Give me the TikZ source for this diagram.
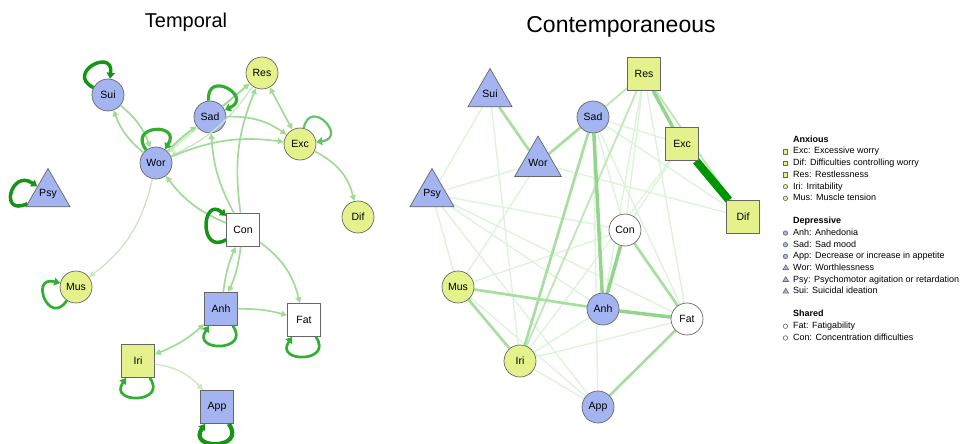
\documentclass[tikz,border=0pt]{standalone}
\usepackage{fontspec}
\setmainfont{Liberation Sans}
\usepackage{xcolor}
\usepackage{tikz}
\usetikzlibrary{positioning}
\usetikzlibrary{shapes.geometric}
\usetikzlibrary{arrows.meta}
\usetikzlibrary{backgrounds}

\definecolor{depblue}{RGB}{164,180,240}
\definecolor{anxyellow}{RGB}{229,242,140}
\definecolor{tedge}{RGB}{160,220,150}
\definecolor{tedgelight}{RGB}{196,234,190}
\definecolor{loopgreen}{RGB}{50,175,50}
\definecolor{loopdark}{RGB}{22,148,22}
\definecolor{cfaint}{RGB}{222,243,218}
\definecolor{clight}{RGB}{192,231,186}
\definecolor{cmid}{RGB}{168,222,160}
\definecolor{cstrong}{RGB}{148,213,140}
\definecolor{cdark}{RGB}{0,150,0}

\begin{document}
\begin{tikzpicture}[x=1pt, y=1pt, node distance=0pt,
  every node/.style={font=\fontsize{10.5}{12}\selectfont},
  >={Triangle[length=6pt,width=6pt]},
  sym/.style={draw=black!60, line width=0.7pt, inner sep=0pt},
  circ/.style={sym, circle, minimum size=32pt},
  sq/.style={sym, rectangle, minimum size=33pt},
  tri/.style={sym, regular polygon, regular polygon sides=3, minimum size=51pt},
  dep/.style={fill=depblue},
  anx/.style={fill=anxyellow},
  shr/.style={fill=white},
  tarr/.style={->, draw=tedge, line width=1.7pt},
  tlight/.style={->, draw=tedgelight, line width=1.3pt},
  selfloop/.style={->, >={Triangle[length=6pt,width=8pt]}, draw=loopgreen, line width=3pt, min distance=32pt},
  pc1/.style={draw=cfaint, line width=1.4pt},
  pc2/.style={draw=clight, line width=1.9pt},
  pc3/.style={draw=cmid, line width=2.7pt},
  pc4/.style={draw=cstrong, line width=3.5pt},
  pc8/.style={draw=cdark, line width=8pt},
  lgtext/.style={anchor=north west, inner sep=0pt, text height=8pt, text depth=3.3pt, font=\fontsize{9}{11}\selectfont},
  lghead/.style={lgtext, font=\fontsize{9}{11}\selectfont\bfseries},
  lmark/.style={draw=black!60, line width=0.6pt, inner sep=0pt, xshift=-5pt},
  lsq/.style={label={[lmark, rectangle, fill=anxyellow, minimum size=4.5pt]left:{}}},
  lca/.style={label={[lmark, circle, fill=anxyellow, minimum size=4.5pt]left:{}}},
  lcd/.style={label={[lmark, circle, fill=depblue, minimum size=4.5pt]left:{}}},
  lcs/.style={label={[lmark, circle, fill=white, minimum size=4.5pt]left:{}}},
  ltd/.style={label={[lmark, regular polygon, regular polygon sides=3, fill=depblue, minimum size=6.5pt]left:{}}}
]
\useasboundingbox (0,0) rectangle (963,-444);

% titles
\node (ttitle) at (186,-22) {\fontsize{20}{24}\selectfont Temporal};
\node (ctitle) at (621,-27) {\fontsize{23}{27}\selectfont Contemporaneous};

% temporal network
\node (tsui) [circ, dep] at (108,-95) {Sui};
\node (twor) [circ, dep] at (156,-163) {Wor};
\node (tpsy) [tri, dep] at (48,-194) {Psy};
\node (tsad) [circ, dep] at (210,-117) {Sad};
\node (tres) [circ, anx] at (262,-73) {Res};
\node (texc) [circ, anx] at (300,-144) {Exc};
\node (tdif) [circ, anx] at (358,-217) {Dif};
\node (tcon) [sq, shr] at (243,-230) {Con};
\node (tmus) [circ, anx] at (76,-287) {Mus};
\node (tanh) [sq, dep] at (221,-309) {Anh};
\node (tfat) [sq, shr] at (304,-320) {Fat};
\node (tiri) [sq, anx] at (138,-361) {Iri};
\node (tapp) [sq, dep] at (217,-407) {App};

\draw [tarr] (tsui) to [bend left=15] (twor);
\draw [tarr] (twor) to [bend left=15] (tsui);
\draw [tarr, line width=2pt] (twor) to [bend left=5] (tsad);
\draw [tlight] (tsad) -- (twor);
\draw [tlight] (tres) to [bend left=15] (twor);
\draw [tarr, line width=2pt] (tsad) -- (tres);
\draw [tarr] (tsad) to [bend left=18] (texc);
\draw [tarr] (twor) to [bend left=15] (texc);
\draw [tarr, <->] (tres) -- (texc);
\draw [tarr] (texc) to [bend left=25] (tdif);
\draw [tarr] (tcon) to [bend left=15] (tres);
\draw [tarr] (tcon) to [bend left=12] (tsad);
\draw [tarr] (tcon) to [bend left=15] (twor);
\draw [tarr] (tcon) to [bend left=8] (tanh);
\draw [tarr] (tanh) to [bend left=8] (tcon);
\draw [tarr] (tcon) to [bend left=20] (tfat);
\draw [tarr] (tanh) to [bend left=8] (tfat);
\draw [tarr, <->] (tiri) to [bend right=10] (tanh);
\draw [tlight] (tiri) to [bend left=20] (tapp);
\draw [tlight] (twor) to [bend left=20] (tmus);

% temporal self loops
\draw [selfloop, draw=loopdark, line width=3.5pt] (tsui) to [out=153, in=83] (tsui);
\draw [selfloop, line width=3.2pt] (twor) to [out=127, in=57] (twor);
\draw [selfloop, draw=loopdark, line width=3.5pt] (tpsy) to [out=205, in=145] (tpsy);
\draw [selfloop, line width=3.2pt] (tsad) to [out=95, in=25] (tsad);
\draw [selfloop, draw=loopgreen!75, line width=2.2pt] (texc) to [out=77, in=7] (texc);
\draw [selfloop, draw=loopdark, line width=3.5pt] (tcon) to [out=210, in=140] (tcon);
\draw [selfloop, line width=2.7pt] (tanh) to [out=305, in=235] (tanh);
\draw [selfloop, line width=2.7pt] (tfat) to [out=305, in=235] (tfat);
\draw [selfloop, line width=2.7pt] (tiri) to [out=305, in=235] (tiri);
\draw [selfloop, draw=loopdark, line width=4.2pt] (tapp) to [out=305, in=235] (tapp);
\draw [selfloop, line width=2.7pt] (tmus) to [out=236, in=166] (tmus);

% contemporaneous network
\node (csui) [tri, dep] at (490,-94) {Sui};
\node (cwor) [tri, dep] at (538,-163) {Wor};
\node (cpsy) [tri, dep] at (432,-194) {Psy};
\node (csad) [circ, dep] at (593,-117) {Sad};
\node (cres) [sq, anx] at (644,-74) {Res};
\node (cexc) [sq, anx] at (682,-144) {Exc};
\node (cdif) [sq, anx] at (743,-217) {Dif};
\node (ccon) [circ, shr] at (625,-230) {Con};
\node (cmus) [circ, anx] at (458,-287) {Mus};
\node (ciri) [circ, anx] at (520,-361) {Iri};
\node (canh) [circ, dep] at (603,-309) {Anh};
\node (cfat) [circ, shr] at (687,-319) {Fat};
\node (capp) [circ, dep] at (598,-407) {App};

\begin{scope}[on background layer]
\draw [pc1] (csui) -- (cpsy);
\draw [pc1] (cpsy) -- (cwor);
\draw [pc1] (csui) -- (ciri);
\draw [pc1] (cpsy) -- (ccon);
\draw [pc1] (cpsy) -- (cmus);
\draw [pc1] (cpsy) -- (capp);
\draw [pc1] (cpsy) -- (cfat);
\draw [pc1] (cpsy) -- (canh);
\draw [pc1] (cwor) -- (cmus);
\draw [pc1] (cwor) -- (cdif);
\draw [pc1] (cmus) -- (ccon);
\draw [pc1] (cmus) -- (capp);
\draw [pc1] (ciri) -- (cfat);
\draw [pc1] (ciri) -- (canh);
\draw [pc1] (ciri) -- (capp);
\draw [pc1] (csad) -- (cfat);
\draw [pc1] (csad) -- (cexc);
\draw [pc1] (csad) -- (cdif);
\draw [pc1] (csad) -- (ccon);
\draw [pc1] (csad) -- (capp);
\draw [pc1] (cres) -- (cwor);
\draw [pc1] (cres) -- (ccon);
\draw [pc1] (cres) -- (cfat);
\draw [pc1] (cres) -- (canh);
\draw [pc1] (cexc) -- (ccon);
\draw [pc1] (cexc) -- (ciri);
\draw [pc2] (cres) -- (cdif);
\draw [pc2] (cres) -- (csad);
\draw [pc2] (cres) -- (ciri);
\draw [pc3] (csui) -- (cwor);
\draw [pc3] (cwor) -- (csad);
\draw [pc3] (cfat) -- (capp);
\draw [pc3] (cmus) -- (ciri);
\draw [pc3] (csad) -- (ciri);
\draw [pc3] (cmus) -- (canh);
\draw [pc3] (ccon) -- (cfat);
\draw [pc4] (cres) -- (cexc);
\draw [pc4] (csad) -- (canh);
\draw [pc4] (ccon) -- (canh);
\draw [pc4] (canh) -- (cfat);
\draw [pc8] (cexc) -- (cdif);
\end{scope}

% legend
\node (anxhead) [lghead] at (793,-134) {Anxious};
\node (lexc) [below=of anxhead.south west, lgtext, lsq] {Exc: Excessive worry};
\node (ldif) [below=of lexc.south west, lgtext, lsq] {Dif: Difficulties controlling worry};
\node (lres) [below=of ldif.south west, lgtext, lsq] {Res: Restlessness};
\node (liri) [below=of lres.south west, lgtext, lca] {Iri: Irritability};
\node (lmus) [below=of liri.south west, lgtext, lca] {Mus: Muscle tension};
\node (dephead) [below=11.3pt of lmus.south west, lghead] {Depressive};
\node (lanh) [below=of dephead.south west, lgtext, lcd] {Anh: Anhedonia};
\node (lsad) [below=of lanh.south west, lgtext, lcd] {Sad: Sad mood};
\node (lapp) [below=of lsad.south west, lgtext, lcd] {App: Decrease or increase in appetite};
\node (lwor) [below=of lapp.south west, lgtext, ltd] {Wor: Worthlessness};
\node (lpsy) [below=of lwor.south west, lgtext, ltd] {Psy: Psychomotor agitation or retardation};
\node (lsui) [below=of lpsy.south west, lgtext, ltd] {Sui: Suicidal ideation};
\node (shrhead) [below=11.3pt of lsui.south west, lghead] {Shared};
\node (lfat) [below=of shrhead.south west, lgtext, lcs] {Fat: Fatigability};
\node (lcon) [below=of lfat.south west, lgtext, lcs] {Con: Concentration difficulties};

\end{tikzpicture}
\end{document}
